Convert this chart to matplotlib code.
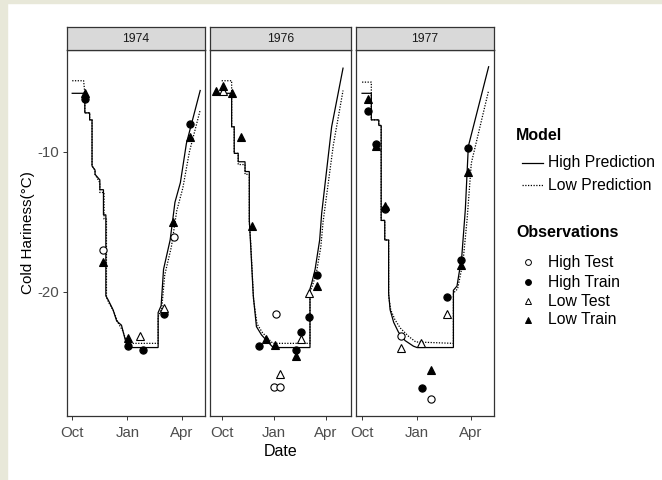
import matplotlib
matplotlib.use("Agg")
import matplotlib.pyplot as plt
from matplotlib.lines import Line2D
from matplotlib.patches import Rectangle

plt.rcParams['font.family'] = ['Liberation Sans', 'DejaVu Sans']

# x = days since 1 October of the season, y = cold hardiness (deg C)
years = ["1974", "1976", "1977"]
tick_labels = ["Oct", "Jan", "Apr"]
tick_days = {"1974": [0, 92, 182], "1976": [0, 92, 183], "1977": [0, 92, 182]}
xlims = {"1974": (-9.5, 221), "1976": (-20.5, 227), "1977": (-11, 221)}

# model predictions
high_pred_74 = [(0, -5.8), (21, -5.8), (21, -7.2), (29, -7.2), (29, -7.7), (33, -7.7), (33, -11.0),
                (38, -11.3), (38, -11.6), (46, -12.0), (46, -12.7), (52, -12.7), (52, -14.5),
                (56, -14.5), (56, -20.3), (60, -20.6), (68, -21.3), (74, -22.1), (82, -22.4),
                (88, -23.4), (92, -24.0), (143, -24.0), (143, -21.5), (148, -21.0), (152, -18.4),
                (163, -16.3), (171, -13.6), (180, -12.2), (190, -9.4), (213, -5.6)]
low_pred_74 = [(0, -4.9), (19, -4.9), (21, -5.8), (21, -7.2), (29, -7.2), (29, -7.7), (33, -7.7),
               (33, -11.0), (38, -11.3), (38, -11.6), (46, -12.2), (46, -12.9), (53, -12.9),
               (53, -14.8), (57, -14.8), (57, -20.4), (61, -20.8), (69, -21.4), (76, -22.2),
               (84, -22.8), (90, -23.5), (93, -23.7), (143, -23.7), (143, -21.8), (149, -21.2),
               (154, -18.8), (165, -16.8), (174, -14.2), (184, -12.6), (195, -10.0), (213, -7.0)]
high_pred_76 = [(0, -5.8), (17.5, -5.8), (17.5, -8.2), (22, -8.2), (22, -10.1), (29, -10.1),
                (29, -10.7), (41, -10.7), (41, -11.4), (48.5, -11.4), (48.5, -14.9), (50, -16.0),
                (55.5, -20.3), (61, -22.5), (70, -23.1), (79, -23.5), (88, -23.9), (92, -24.0),
                (155, -24.0), (155, -19.8), (158, -19.4), (164, -18.4), (172, -16.3),
                (175.5, -14.4), (193, -8.2), (213, -4.0)]
low_pred_76 = [(0, -4.9), (17.5, -4.9), (17.5, -8.2), (22, -8.2), (22, -10.1), (29, -10.1),
               (29, -10.9), (41, -10.9), (41, -11.6), (48.5, -11.6), (48.5, -15.0), (51, -16.5),
               (56, -20.6), (62, -22.3), (71, -22.9), (80, -23.3), (90, -23.7), (155, -23.7),
               (155, -20.0), (159, -19.6), (166, -18.7), (174, -16.8), (178, -15.0),
               (196, -9.5), (213, -5.6)]
high_pred_77 = [(0, -5.8), (15.5, -5.8), (15.5, -7.7), (28, -7.7), (28, -8.1), (32, -8.1),
                (32, -14.9), (38, -14.9), (38, -16.3), (44.5, -16.3), (44.5, -20.1), (47, -21.3),
                (53, -22.2), (61, -22.9), (72, -23.5), (86, -23.9), (92, -24.0), (153, -24.0),
                (153, -19.9), (159, -19.6), (167, -17.5), (173, -14.1), (178, -9.6), (212, -3.9)]
low_pred_77 = [(0, -5.0), (15.5, -5.0), (15.5, -7.7), (28, -7.7), (28, -8.1), (32, -8.1),
               (32, -14.9), (38, -14.9), (38, -16.3), (44.5, -16.3), (44.5, -20.3), (48, -21.3),
               (55, -22.0), (64, -22.6), (78, -23.2), (90, -23.6), (153, -23.7), (153, -20.1),
               (160, -19.8), (169, -17.9), (176, -14.8), (183, -10.8), (212, -5.6)]

# observations
high_test_74 = [(52, -17.0), (170, -16.1)]
high_train_74 = [(22, -6.2), (196, -8.0), (153, -21.6), (93, -23.9), (117, -24.2)]
low_test_74 = [(152, -21.2), (112, -23.2)]
low_train_74 = [(21, -5.8), (196, -8.9), (52, -17.9), (168, -15.0), (93, -23.3)]

high_test_76 = [(95, -21.6), (92, -26.8), (102, -26.8)]
high_train_76 = [(66, -23.9), (130, -24.2), (140, -22.9), (152.6, -21.8), (168, -18.8)]
low_test_76 = [(3, -5.6), (102, -25.9), (140, -23.4), (152.6, -20.1)]
low_train_76 = [(-10, -5.6), (2, -5.3), (17.5, -5.8), (34, -8.9), (52.6, -15.3), (77, -23.4),
                (93.5, -23.8), (130, -24.6), (168, -19.6)]

high_test_77 = [(66, -23.2), (116, -27.7)]
high_train_77 = [(10, -7.1), (24, -9.4), (39, -14.1), (178, -9.7), (166, -17.7), (143, -20.4),
                 (100, -26.9)]
low_test_77 = [(66, -24.0), (99, -23.7), (143, -21.6)]
low_train_77 = [(10, -6.2), (24, -9.6), (39, -13.9), (178, -11.4), (166, -18.1), (116, -25.6)]

preds = {"1974": (high_pred_74, low_pred_74),
         "1976": (high_pred_76, low_pred_76),
         "1977": (high_pred_77, low_pred_77)}
obs = {"1974": (high_test_74, high_train_74, low_test_74, low_train_74),
       "1976": (high_test_76, high_train_76, low_test_76, low_train_76),
       "1977": (high_test_77, high_train_77, low_test_77, low_train_77)}

obs_styles = [dict(marker='o', mfc='white'), dict(marker='o', mfc='black'),
              dict(marker='^', mfc='white'), dict(marker='^', mfc='black')]

W, H = 662, 480
fig = plt.figure(figsize=(W / 100, H / 100), dpi=100)

# beige frame on left/top
fig.patches.append(Rectangle((0, 0), 7 / W, 1, transform=fig.transFigure, color='#e8e8d9', zorder=-1))
fig.patches.append(Rectangle((0, 1 - 3 / H), 1, 3 / H, transform=fig.transFigure, color='#e8e8d9', zorder=-1))

panel_px = [(66.5, 205), (210, 351), (355.5, 494)]
bot_px, top_px, strip_top_px = 416, 50, 27
grey = '#4d4d4d'

for i, yr in enumerate(years):
    x0, x1 = panel_px[i]
    ax = fig.add_axes([x0 / W, 1 - bot_px / H, (x1 - x0) / W, (bot_px - top_px) / H])
    hi, lo = preds[yr]
    ax.plot([p[0] for p in hi], [p[1] for p in hi], color='black', lw=0.9, solid_joinstyle='miter')
    ax.plot([p[0] for p in lo], [p[1] for p in lo], color='black', lw=0.9, ls=(0, (1, 1.2)))
    for pts, st in zip(obs[yr], obs_styles):
        ax.plot([p[0] for p in pts], [p[1] for p in pts], ls='none', mec='black', mew=0.8,
                ms=5.2, **st)
    ax.set_xlim(*xlims[yr])
    ax.set_ylim(-28.9, -2.7)
    ax.set_xticks(tick_days[yr])
    ax.set_xticklabels(tick_labels)
    ax.set_yticks([-10, -20])
    if i == 0:
        ax.set_yticklabels(['-10', '-20'])
        ax.set_ylabel('Cold Hariness(°C)', fontsize=11, labelpad=2)
    else:
        ax.tick_params(axis='y', left=False, labelleft=False)
    if i == 1:
        ax.set_xlabel('Date', fontsize=11.5, labelpad=3)
    ax.tick_params(colors='#333333', labelcolor=grey, labelsize=10.8, length=3, width=0.7, pad=2)
    ax.tick_params(axis='x', pad=4)
    for s in ax.spines.values():
        s.set_color('#333333')
        s.set_linewidth(0.9)

    sax = fig.add_axes([x0 / W, 1 - top_px / H, (x1 - x0) / W, (top_px - strip_top_px) / H])
    sax.set_facecolor('#d9d9d9')
    sax.set_xticks([])
    sax.set_yticks([])
    for s in sax.spines.values():
        s.set_color('#333333')
        s.set_linewidth(0.9)
    sax.text(0.5, 0.5, yr, ha='center', va='center', fontsize=8.8, color='#1a1a1a',
             transform=sax.transAxes)


# legend drawn in figure pixels
def fx(px):
    return px / W


def fy(py):
    return 1 - py / H


fig.text(fx(516), fy(135), 'Model', fontsize=11.5, fontweight='bold', va='center')
model_items = [('High Prediction', '-', 163), ('Low Prediction', (0, (1, 1.2)), 185)]
for lab, ls, py in model_items:
    fig.add_artist(Line2D([fx(522), fx(543)], [fy(py), fy(py)], color='black', lw=0.9, ls=ls))
    fig.text(fx(548), fy(py), lab, fontsize=11.3, va='center')

fig.text(fx(516), fy(233), 'Observations', fontsize=11.5, fontweight='bold', va='center')
obs_labels = ['High Test', 'High Train', 'Low Test', 'Low Train']
obs_y = [262, 282, 301, 320]
for lab, st, py in zip(obs_labels, obs_styles, obs_y):
    fig.add_artist(Line2D([fx(528)], [fy(py)], ls='none', mec='black', mew=0.7, ms=4.2, **st))
    fig.text(fx(548), fy(py), lab, fontsize=11.3, va='center')

fig.savefig('out.png', dpi=100)
